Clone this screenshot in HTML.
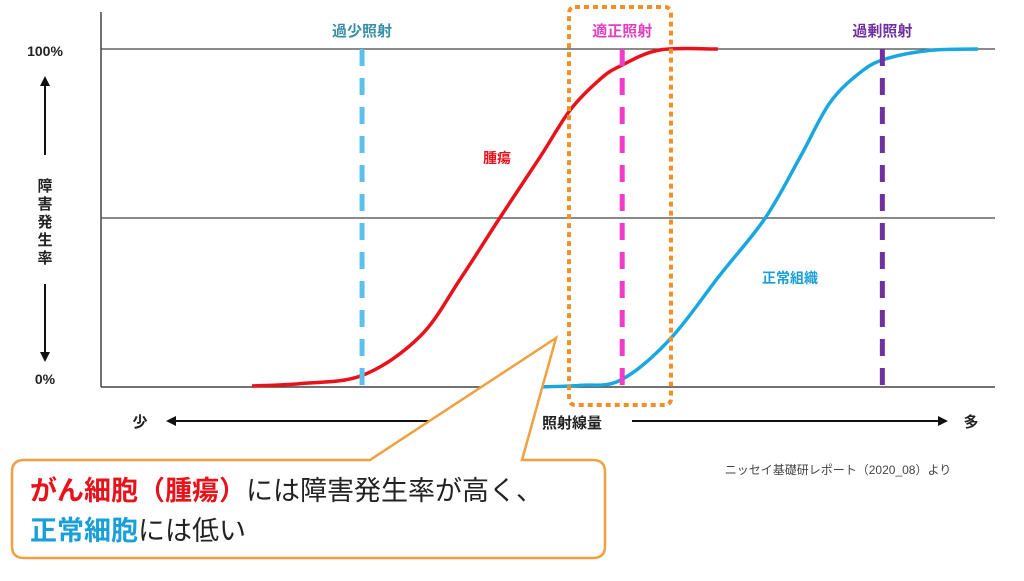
<!DOCTYPE html>
<html><head><meta charset="utf-8">
<style>
html,body{margin:0;padding:0;background:#fff;}
svg text{font-family:"Liberation Sans","Noto Sans CJK JP",sans-serif;}
</style></head>
<body>
<svg id="chart" width="1024" height="576" viewBox="0 0 1024 576" xmlns="http://www.w3.org/2000/svg">
<defs>
<marker id="ah" viewBox="0 0 10 10" refX="8" refY="5" markerWidth="5" markerHeight="5" orient="auto"><path d="M0,0L10,5L0,10z" fill="#111"/></marker>
</defs>
<g id="plot">
<line x1="101" y1="12" x2="101" y2="387" stroke="#444" stroke-width="1.5"/>
<line x1="101" y1="49" x2="995" y2="49" stroke="#444" stroke-width="1.2"/>
<line x1="101" y1="218" x2="995" y2="218" stroke="#444" stroke-width="1.2"/>
<line x1="101" y1="387" x2="995" y2="387" stroke="#444" stroke-width="1.5"/>
</g>
<g id="series"></g>
<g id="vlines"></g>

<rect x="569" y="7" width="102" height="398" rx="6" fill="none" stroke="#f0902a" stroke-width="4" stroke-dasharray="5 4"/>

<text x="45" y="56" font-size="14" font-weight="bold" text-anchor="middle" fill="#222">100%</text>
<line x1="45" y1="155" x2="45" y2="78" stroke="#111" stroke-width="2" marker-end="url(#ah)"/>
<text font-size="15" font-weight="bold" fill="#222" text-anchor="middle">
<tspan x="45" y="191">障</tspan><tspan x="45" y="209">害</tspan><tspan x="45" y="227">発</tspan><tspan x="45" y="245">生</tspan><tspan x="45" y="263">率</tspan></text>
<line x1="45" y1="284" x2="45" y2="360" stroke="#111" stroke-width="2" marker-end="url(#ah)"/>
<text x="45" y="384" font-size="14" font-weight="bold" text-anchor="middle" fill="#222">0%</text>

<text x="140" y="427" font-size="15" font-weight="bold" text-anchor="middle" fill="#222">少</text>
<line x1="530" y1="421" x2="168" y2="421" stroke="#111" stroke-width="2" marker-end="url(#ah)"/>
<text x="572" y="428" font-size="15" font-weight="bold" text-anchor="middle" fill="#222">照射線量</text>
<line x1="632" y1="421" x2="946" y2="421" stroke="#111" stroke-width="2" marker-end="url(#ah)"/>
<text x="971" y="427" font-size="15" font-weight="bold" text-anchor="middle" fill="#222">多</text>

<text x="497" y="163" font-size="14" font-weight="bold" text-anchor="middle" fill="#e8121a">腫瘍</text>
<text x="790" y="283" font-size="14" font-weight="bold" text-anchor="middle" fill="#1a9fd8">正常組織</text>

<text x="838" y="474" font-size="12" text-anchor="middle" fill="#444">ニッセイ基礎研レポート（2020_08）より</text>

<g>
<path d="M24,460 L370,460 L556,338 L522,460 L593,460 Q605,460 605,472 L605,546 Q605,558 593,558 L24,558 Q12,558 12,546 L12,472 Q12,460 24,460 Z" fill="#fff" stroke="#f0a040" stroke-width="2.5"/>
<text x="30" y="500" font-size="27" fill="#222"><tspan fill="#e8121a" font-weight="bold">がん細胞（腫瘍）</tspan>には障害発生率が高く、</text>
<text x="30" y="540" font-size="27" fill="#222"><tspan fill="#1a9fd8" font-weight="bold">正常細胞</tspan>には低い</text>
</g>
</svg>
<script>
var tumorDose=[16.9,22.3,29.3,35.7,40.2,44.6,49.1,52.5,55.8,58.1,62.5,69];
var tumorRate=[0.3,1,3.5,15,32,50,68,82,91,95,99.7,100];
var normalDose=[48.9,53.6,58.1,63.6,69.2,74.3,78.2,81.5,84.9,87.7,92.7,98.1];
var normalRate=[0,0.5,2,14,33,50,68,84,93,97,99.6,100];
var markerNames=["過少照射","適正照射","過剰照射"];
var markerDose=[29.2,58.3,87.4];
var markerColors=["#5bc0ec","#f03cc8","#7030a0"];
var labelColors=["#3a8fa8","#e040c0","#7030a0"];

function sx(d){return 101+d*8.94;}
function sy(v){return 387-v*3.38;}
var NS="http://www.w3.org/2000/svg";
function smooth(xs,ys){
  var p=xs.map(function(x,i){return [sx(x),sy(ys[i])];});
  var d="M"+p[0][0].toFixed(2)+","+p[0][1].toFixed(2);
  for(var i=0;i<p.length-1;i++){
    var p0=p[Math.max(0,i-1)],p1=p[i],p2=p[i+1],p3=p[Math.min(p.length-1,i+2)];
    var c1x=p1[0]+(p2[0]-p0[0])/6,c1y=p1[1]+(p2[1]-p0[1])/6;
    var c2x=p2[0]-(p3[0]-p1[0])/6,c2y=p2[1]-(p3[1]-p1[1])/6;
    d+=" C"+c1x.toFixed(2)+","+c1y.toFixed(2)+" "+c2x.toFixed(2)+","+c2y.toFixed(2)+" "+p2[0].toFixed(2)+","+p2[1].toFixed(2);
  }
  return d;
}
var sg=document.getElementById('series');
var tp=document.createElementNS(NS,'path');
tp.setAttribute('d',smooth(tumorDose,tumorRate));
tp.setAttribute('fill','none');tp.setAttribute('stroke','#e8121a');tp.setAttribute('stroke-width','3.5');


sg.appendChild(tp);
var np=document.createElementNS(NS,'path');
np.setAttribute('d',smooth(normalDose,normalRate));
np.setAttribute('fill','none');np.setAttribute('stroke','#1aa7e0');np.setAttribute('stroke-width','3.5');


sg.appendChild(np);
var vg=document.getElementById('vlines');
markerDose.forEach(function(d,i){
  var l=document.createElementNS(NS,'line');
  l.setAttribute('x1',sx(d));l.setAttribute('x2',sx(d));
  l.setAttribute('y1',sy(100));l.setAttribute('y2',sy(0));
  l.setAttribute('stroke',markerColors[i]);l.setAttribute('stroke-width','5');
  l.setAttribute('stroke-dasharray','17 12');
  
  
  vg.appendChild(l);
  var tx=document.createElementNS(NS,'text');
  tx.setAttribute('x',sx(d));tx.setAttribute('y',36);
  tx.setAttribute('text-anchor','middle');tx.setAttribute('font-size','15');
  tx.setAttribute('font-weight','bold');tx.setAttribute('fill',labelColors[i]);
  tx.textContent=markerNames[i];
  
  
  vg.appendChild(tx);
});
</script>
</body></html>
